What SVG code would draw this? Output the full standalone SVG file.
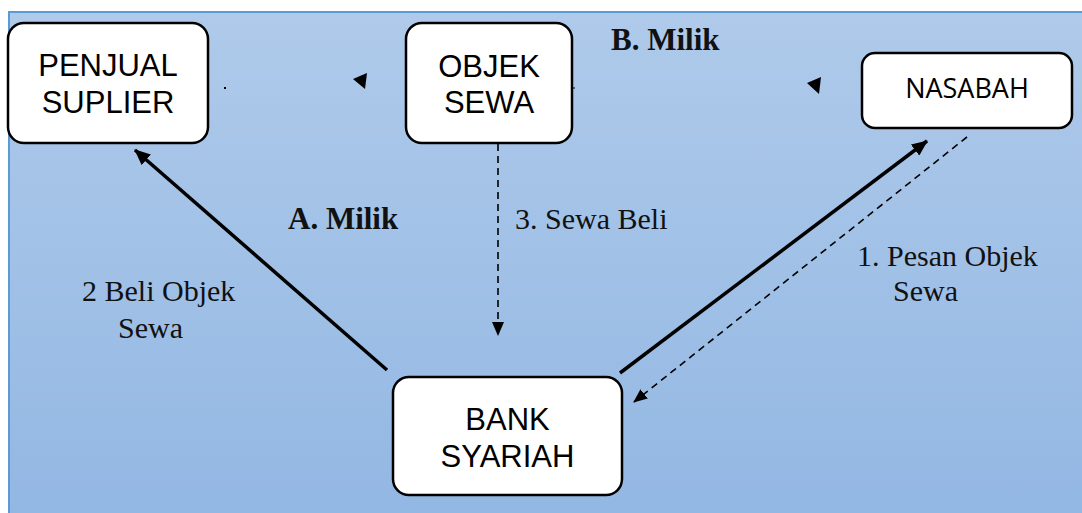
<svg xmlns="http://www.w3.org/2000/svg" width="1082" height="513" viewBox="0 0 1082 513">
<defs>
<linearGradient id="bg" x1="0" y1="0" x2="0" y2="1">
<stop offset="0" stop-color="#afcaea"/>
<stop offset="1" stop-color="#92b7e3"/>
</linearGradient>
<marker id="ah" markerWidth="16" markerHeight="14" refX="15" refY="7" orient="auto" markerUnits="userSpaceOnUse">
<path d="M0,0 L16,7 L0,14 Z" fill="#000"/>
</marker>
<marker id="ahs" markerWidth="14" markerHeight="12" refX="13" refY="6" orient="auto" markerUnits="userSpaceOnUse">
<path d="M0,0 L14,6 L0,12 Z" fill="#000"/>
</marker>
<style>
.box{fill:#fff;stroke:#000;stroke-width:2.5}
.nl{font-family:"Liberation Sans",Arial,sans-serif;font-size:31px;fill:#000;text-anchor:middle}
.nl2{font-family:"Open Sans","Liberation Sans",sans-serif;font-size:27px;fill:#000;text-anchor:middle}
.lbl{font-family:"Liberation Serif","Times New Roman",serif;font-size:30px;fill:#111}
.bold{font-weight:bold;font-size:31px}
.thick{stroke:#000;stroke-width:3.5;fill:none}
.dash{stroke:#000;stroke-width:1.6;fill:none;stroke-dasharray:7,5}
</style>
</defs>
<rect x="9" y="12" width="1080" height="510" fill="url(#bg)" stroke="#5b9bd5" stroke-width="2"/>

<g id="connectors">
<line class="thick" x1="387" y1="370" x2="135" y2="150" marker-end="url(#ah)"/>
<line class="dash" x1="498" y1="144" x2="498" y2="335" marker-end="url(#ahs)"/>
<line class="thick" x1="620" y1="373" x2="927" y2="141" marker-end="url(#ah)"/>
<line class="dash" x1="967" y1="137" x2="634" y2="402" marker-end="url(#ahs)"/>
<path d="M353,79 L367,73 L365,89 Z" fill="#000"/>
<path d="M807,83 L821,77 L819,94 Z" fill="#000"/>
<rect x="224" y="87" width="2" height="2" fill="#000"/>
<line x1="572" y1="88" x2="575" y2="88" stroke="#000" stroke-width="1"/>
</g>

<g id="penjual">
<rect class="box" x="8" y="23" width="200" height="120" rx="16"/>
<text class="nl" x="108" y="76">PENJUAL</text>
<text class="nl" x="108" y="113">SUPLIER</text>
</g>
<g id="objek">
<rect class="box" x="406" y="23" width="166" height="120" rx="16"/>
<text class="nl" x="489" y="77">OBJEK</text>
<text class="nl" x="489" y="113">SEWA</text>
</g>
<g id="nasabah">
<rect class="box" x="862" y="53" width="210" height="75" rx="13"/>
<text class="nl2" x="967" y="98">NASABAH</text>
</g>
<g id="bank">
<rect class="box" x="393" y="377" width="229" height="118" rx="16"/>
<text class="nl" x="507.5" y="430">BANK</text>
<text class="nl" x="507.5" y="467">SYARIAH</text>
</g>

<g id="labels">
<text class="lbl bold" x="611" y="50">B. Milik</text>
<text class="lbl bold" x="288" y="229">A. Milik</text>
<text class="lbl" x="515" y="229">3. Sewa Beli</text>
<text class="lbl" x="82" y="301">2 Beli Objek</text>
<text class="lbl" x="118" y="338">Sewa</text>
<text class="lbl" x="857" y="266">1. Pesan Objek</text>
<text class="lbl" x="893" y="301">Sewa</text>
</g>
</svg>
